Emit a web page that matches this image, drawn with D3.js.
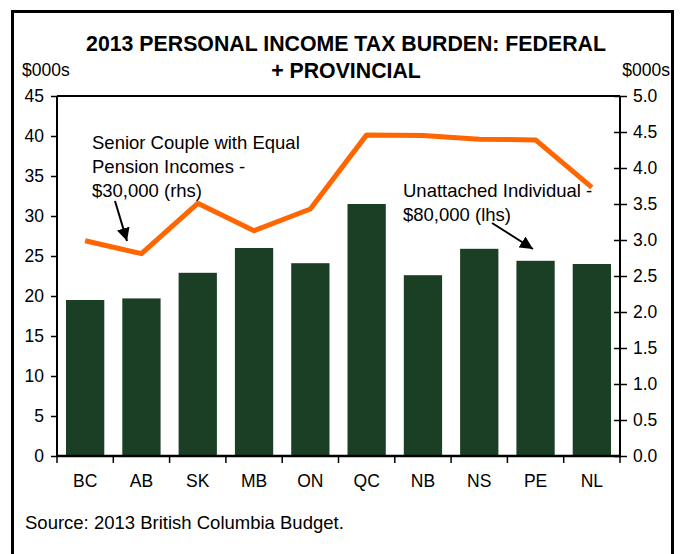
<!DOCTYPE html>
<html>
<head>
<meta charset="utf-8">
<script src="https://cdn.jsdelivr.net/npm/d3@7"></script>
<style>
  html, body { margin: 0; padding: 0; background: #fff; }
  svg { display: block; font-family: "Liberation Sans", Arial, sans-serif; }
</style>
</head>
<body>
<svg id="chart" width="686" height="554"></svg>
<script>
// Provinces along the x axis
const categories = ["BC", "AB", "SK", "MB", "ON", "QC", "NB", "NS", "PE", "NL"];
// Unattached individual, $80,000 income — $000s, left axis
const unattachedTax = [19.5, 19.7, 22.9, 26.0, 24.1, 31.5, 22.6, 25.9, 24.4, 24.0];
// Senior couple with equal pension incomes, $30,000 — $000s, right axis
const seniorTax = [2.99, 2.81, 3.51, 3.13, 3.43, 4.46, 4.45, 4.40, 4.39, 3.73];
// Axis ticks
const leftTicks = [0, 5, 10, 15, 20, 25, 30, 35, 40, 45];
const rightTicks = [0, 0.5, 1, 1.5, 2, 2.5, 3, 3.5, 4, 4.5, 5];

const svg = d3.select("#chart");
const plot = { left: 57, right: 620, top: 96, bottom: 456 };
const labelSize = 17.5;

// Outer frame (open at the bottom edge of the page)
svg.append("path")
  .attr("d", "M12.5,560 V11.5 H672.5 V560")
  .attr("fill", "none").attr("stroke", "#000").attr("stroke-width", 3);

// Title
const title = svg.append("text")
  .attr("text-anchor", "middle")
  .attr("font-weight", "bold").attr("font-size", 21.3);
title.append("tspan").attr("x", 346).attr("y", 51).text("2013 PERSONAL INCOME TAX BURDEN: FEDERAL");
title.append("tspan").attr("x", 346).attr("y", 78).text("+ PROVINCIAL");

// Unit labels
svg.append("text").attr("x", 22).attr("y", 76).attr("font-size", labelSize).text("$000s");
svg.append("text").attr("x", 670).attr("y", 76).attr("font-size", labelSize)
  .attr("text-anchor", "end").text("$000s");

// Scales
const x = d3.scaleBand().domain(categories)
  .range([plot.left, plot.right]).paddingInner(0.32).paddingOuter(0.16);
const yL = d3.scaleLinear().domain([0, 45]).range([plot.bottom, plot.top]);
const yR = d3.scaleLinear().domain([0, 5]).range([plot.bottom, plot.top]);

// Bars
svg.append("g").selectAll("rect").data(categories).join("rect")
  .attr("x", d => x(d))
  .attr("width", x.bandwidth())
  .attr("y", (d, i) => yL(unattachedTax[i]))
  .attr("height", (d, i) => yL(0) - yL(unattachedTax[i]))
  .attr("fill", "#1b3f24");

// Plot area border (top line)
svg.append("line")
  .attr("x1", plot.left).attr("x2", plot.right)
  .attr("y1", plot.top).attr("y2", plot.top)
  .attr("stroke", "#000").attr("stroke-width", 2);

// Left axis
const gL = svg.append("g").attr("transform", `translate(${plot.left},0)`)
  .call(d3.axisLeft(yL).tickValues(leftTicks).tickSize(6).tickPadding(7));
// Right axis
const gR = svg.append("g").attr("transform", `translate(${plot.right},0)`)
  .call(d3.axisRight(yR).tickValues(rightTicks).tickFormat(d3.format(".1f")).tickSize(7).tickPadding(6));
gR.selectAll(".tick line").attr("x1", -6);

[gL, gR].forEach(g => {
  g.select(".domain").attr("stroke-width", 2).attr("d", `M0,${plot.top}V${plot.bottom}`);
  g.selectAll(".tick line").attr("stroke-width", 1.5);
  g.selectAll(".tick text").attr("font-size", labelSize).attr("fill", "#000")
    .attr("font-family", "Liberation Sans, Arial, sans-serif");
});

// Bottom axis: labels centred on bands, ticks on band boundaries
const gB = svg.append("g").attr("transform", `translate(0,${plot.bottom})`)
  .call(d3.axisBottom(x).tickSize(0).tickPadding(19));
gB.select(".domain").remove();
gB.selectAll(".tick text").attr("font-size", labelSize).attr("fill", "#000")
  .attr("font-family", "Liberation Sans, Arial, sans-serif");
svg.append("line")
  .attr("x1", plot.left - 1).attr("x2", plot.right + 1)
  .attr("y1", plot.bottom).attr("y2", plot.bottom)
  .attr("stroke", "#000").attr("stroke-width", 2.5);
svg.append("g").selectAll("line").data(d3.range(categories.length + 1)).join("line")
  .attr("x1", i => plot.left + i * x.step()).attr("x2", i => plot.left + i * x.step())
  .attr("y1", plot.bottom).attr("y2", plot.bottom + 7)
  .attr("stroke", "#000").attr("stroke-width", 1.5);

// Senior couple line
const line = d3.line()
  .x((d, i) => x(categories[i]) + x.bandwidth() / 2)
  .y(d => yR(d));
svg.append("path").datum(seniorTax)
  .attr("d", line)
  .attr("fill", "none").attr("stroke", "#ff6600")
  .attr("stroke-width", 5).attr("stroke-linejoin", "round");

// Arrow marker
svg.append("defs").append("marker")
  .attr("id", "arrowhead").attr("viewBox", "0 0 10 10")
  .attr("refX", 10).attr("refY", 5)
  .attr("markerWidth", 13).attr("markerHeight", 13)
  .attr("markerUnits", "userSpaceOnUse").attr("orient", "auto")
  .append("path").attr("d", "M0,0 L10,5 L0,10 Z").attr("fill", "#000");

// Annotations
function annotate(lines, tx, ty, from, to) {
  const t = svg.append("text").attr("font-size", 18.5).attr("fill", "#000");
  lines.forEach((s, k) => t.append("tspan").attr("x", tx).attr("y", ty + k * 24).text(s));
  svg.append("line")
    .attr("x1", from[0]).attr("y1", from[1]).attr("x2", to[0]).attr("y2", to[1])
    .attr("stroke", "#000").attr("stroke-width", 2)
    .attr("marker-end", "url(#arrowhead)");
}
annotate(["Senior Couple with Equal", "Pension Incomes -", "$30,000 (rhs)"], 92, 149,
  [115, 201], [127, 241]);
annotate(["Unattached Individual -", "$80,000 (lhs)"], 403, 197,
  [492, 223], [533, 249]);

// Source note
svg.append("text").attr("x", 25).attr("y", 529).attr("font-size", 18.5)
  .text("Source: 2013 British Columbia Budget.");
</script>
</body>
</html>
